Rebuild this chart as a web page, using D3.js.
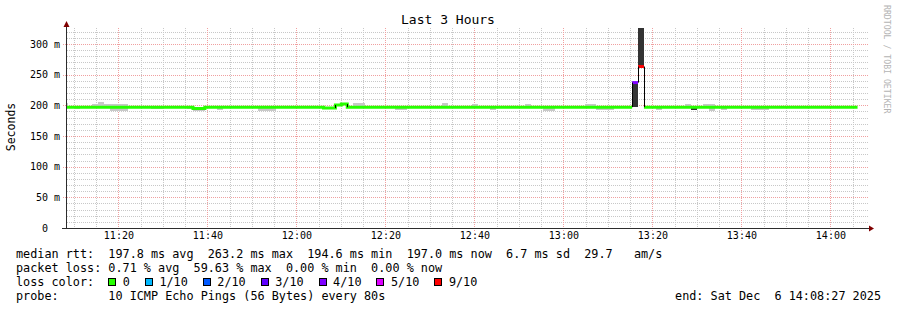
<!DOCTYPE html>
<html>
<head>
<meta charset="utf-8">
<script src="https://cdn.jsdelivr.net/npm/d3@7"></script>
<style>
  html, body { margin: 0; padding: 0; background: #fff; }
  svg { display: block; font-family: "DejaVu Sans Mono", monospace; }
  text { white-space: pre; }
</style>
</head>
<body>
<svg id="chart" width="897" height="310"></svg>
<script>
// 1) Data
const startTime = new Date(2025, 11, 6, 11, 8, 27);
const endTime = new Date(2025, 11, 6, 14, 8, 27);
const firstStep = new Date(2025, 11, 6, 11, 7, 26);
const stepSeconds = 80;

// median rtt per 80s step (ms)
const medianMs = [
  197, 197, 197, 197, 197, 197, 197, 197, 197, 197,
  197, 197, 197, 197, 197, 197, 197, 197, 197, 197,
  197, 197, 194.6, 194.6, 197, 197, 197, 197, 197, 197,
  197, 197, 197, 197, 197, 197, 197, 197, 197, 197,
  197, 197, 197, 197, 195.5, 195.5, 200.5, 202, 197, 197,
  197, 197, 197, 197, 197, 197, 197, 197, 197, 197,
  197, 197, 197, 197, 197, 197, 197, 197, 197, 197,
  197, 197, 197, 197, 197, 197, 197, 197, 197, 197,
  197, 197, 197, 197, 197, 197, 197, 197, 197, 197,
  197, 197, 197, 197, 197, 197, 237, 263.2, 197, 197,
  197, 197, 197, 197, 197, 197, 197, 197, 197, 197,
  197, 197, 197, 197, 197, 197, 197, 197, 197, 197,
  197, 197, 197, 197, 197, 197, 197, 197, 197, 197,
  197, 197, 197, 197
];

// lost pings out of 10 per step
const lossTenths = [
  0, 0, 0, 0, 0, 0, 0, 0, 0, 0,
  0, 0, 0, 0, 0, 0, 0, 0, 0, 0,
  0, 0, 0, 0, 0, 0, 0, 0, 0, 0,
  0, 0, 0, 0, 0, 0, 0, 0, 0, 0,
  0, 0, 0, 0, 0, 0, 0, 0, 0, 0,
  0, 0, 0, 0, 0, 0, 0, 0, 0, 0,
  0, 0, 0, 0, 0, 0, 0, 0, 0, 0,
  0, 0, 0, 0, 0, 0, 0, 0, 0, 0,
  0, 0, 0, 0, 0, 0, 0, 0, 0, 0,
  0, 0, 0, 0, 0, 0, 4, 9, 0, 0,
  0, 0, 0, 0, 0, 0, 0, 0, 0, 0,
  0, 0, 0, 0, 0, 0, 0, 0, 0, 0,
  0, 0, 0, 0, 0, 0, 0, 0, 0, 0,
  0, 0, 0, 0
];

// smoke: [step, low ms, high ms] (outer pings, light)
const smokeOuter = [
  [0, 197, 204], [2, 194, 197], [5, 197, 202], [6, 197, 205], [7, 197, 202],
  [8, 191, 202], [9, 191, 202], [10, 191, 202], [15, 194, 197], [16, 194, 197],
  [21, 194, 197], [22, 191, 197], [23, 191, 197], [26, 193, 197],
  [33, 191, 197], [34, 191, 197], [35, 191, 197], [49, 197, 203], [50, 197, 203],
  [56, 192, 197], [57, 192, 197], [64, 197, 203], [69, 197, 202], [72, 193, 197],
  [78, 197, 201.5], [81, 190.5, 197], [82, 190.5, 197], [88, 197, 201.5], [89, 197, 201.5],
  [90, 192, 197], [91, 192, 197], [92, 192, 197], [100, 193, 197], [105, 197, 201.5],
  [108, 197, 202.5], [109, 191, 202.5], [111, 193, 197],
  [116, 192, 197], [117, 192, 197], [118, 192, 197]
];
// smoke: [step, low ms, high ms] (dense pings, dark)
const smokeCore = [
  [96, 197, 237], [97, 263.2, 327], [106, 192.5, 197]
];

const yTickValues = [0, 50, 100, 150, 200, 250, 300];
const yTickLabels = ["0  ", "50 m", "100 m", "150 m", "200 m", "250 m", "300 m"];
const xTickLabels = ["11:20", "11:40", "12:00", "12:20", "12:40", "13:00", "13:20", "13:40", "14:00"];

const lossLevels = [0, 1, 2, 3, 4, 5, 9];
const lossLabels = ["0", "1/10", "2/10", "3/10", "4/10", "5/10", "9/10"];
const lossColors = ["#26ff00", "#00b8ff", "#0059ff", "#5e00ff", "#7e00ff", "#dd00ff", "#ff0000"];

const legendLines = [
  "median rtt:  197.8 ms avg  263.2 ms max  194.6 ms min  197.0 ms now  6.7 ms sd  29.7   am/s",
  "packet loss: 0.71 % avg  59.63 % max  0.00 % min  0.00 % now",
  "loss color:",
  "probe:       10 ICMP Echo Pings (56 Bytes) every 80s"
];
const endLabel = "end: Sat Dec  6 14:08:27 2025";

// 2) Scales
const plot = { left: 67, right: 868, top: 28, bottom: 228 };
const svg = d3.select("#chart");

const x = d3.scaleTime().domain([startTime, endTime]).range([plot.left, plot.right]);
const y = d3.scaleLinear().domain([0, 326]).range([plot.bottom, plot.top]);

const stepStart = (j) => new Date(firstStep.getTime() + j * stepSeconds * 1000);
const px = (v) => Math.round(v) + 0.5;
const lossColor = (l) => lossColors[lossLevels.indexOf(l)];

const xTickTimes = xTickLabels.map((s) => {
  const [h, m] = s.split(":");
  return new Date(2025, 11, 6, +h, +m);
});

// 3) Grid
const grid = svg.append("g").attr("fill", "none").attr("stroke-width", 1).attr("stroke-dasharray", "1,1");

const minorY = d3.range(10, 330, 10).filter((v) => v % 50 !== 0);
grid.selectAll(".gy").data(minorY).join("line")
  .attr("x1", plot.left).attr("x2", plot.right)
  .attr("y1", (d) => px(y(d))).attr("y2", (d) => px(y(d)))
  .attr("stroke", "#c8c8c8");

const minorX = d3.timeMinute.every(5).range(startTime, endTime).filter((t) => t.getMinutes() % 20 !== 0);
grid.selectAll(".gx").data(minorX).join("line")
  .attr("x1", (d) => px(x(d))).attr("x2", (d) => px(x(d)))
  .attr("y1", plot.top).attr("y2", plot.bottom)
  .attr("stroke", "#c8c8c8");

grid.selectAll(".my").data(yTickValues.slice(1)).join("line")
  .attr("x1", plot.left - 4).attr("x2", plot.right)
  .attr("y1", (d) => px(y(d))).attr("y2", (d) => px(y(d)))
  .attr("stroke", "#f0a0a0");

grid.selectAll(".mx").data(xTickTimes).join("line")
  .attr("x1", (d) => px(x(d))).attr("x2", (d) => px(x(d)))
  .attr("y1", plot.top).attr("y2", plot.bottom + 4)
  .attr("stroke", "#f0a0a0");

// 4) Smoke + median
svg.append("clipPath").attr("id", "clip")
  .append("rect")
  .attr("x", plot.left).attr("y", plot.top)
  .attr("width", plot.right - plot.left).attr("height", plot.bottom - plot.top);

const marks = svg.append("g").attr("clip-path", "url(#clip)");

function drawSmoke(rows, color) {
  marks.append("g").attr("shape-rendering", "crispEdges")
    .selectAll("rect").data(rows).join("rect")
    .attr("x", (d) => x(stepStart(d[0])))
    .attr("width", (d) => x(stepStart(d[0] + 1)) - x(stepStart(d[0])))
    .attr("y", (d) => y(d[2]))
    .attr("height", (d) => y(d[1]) - y(d[2]))
    .attr("fill", color);
}
drawSmoke(smokeOuter, "#c8c8c8");
drawSmoke(smokeCore, "#333333");

// split median into runs of equal loss color
const runs = [];
medianMs.forEach((m, j) => {
  const last = runs[runs.length - 1];
  if (last && last.loss === lossTenths[j]) last.steps.push(j);
  else runs.push({ loss: lossTenths[j], steps: [j] });
});

const medLine = d3.line()
  .x((d) => x(stepStart(d.j)))
  .y((d) => y(d.v))
  .curve(d3.curveStepAfter);

marks.append("g").selectAll("path").data(runs).join("path")
  .attr("d", (r) => {
    const pts = r.steps.map((j) => ({ j, v: medianMs[j] }));
    const lastJ = r.steps[r.steps.length - 1];
    pts.push({ j: lastJ + 1, v: medianMs[lastJ] });
    return medLine(pts);
  })
  .attr("fill", "none")
  .attr("stroke", (r) => lossColor(r.loss))
  .attr("stroke-width", 3);

// black transitions where the median jumps
const jumps = medianMs.map((m, j) => j).filter((j) => j > 0 && Math.abs(y(medianMs[j]) - y(medianMs[j - 1])) > 1.5);
marks.append("g").selectAll("line").data(jumps).join("line")
  .attr("x1", (j) => px(x(stepStart(j)))).attr("x2", (j) => px(x(stepStart(j))))
  .attr("y1", (j) => y(medianMs[j - 1])).attr("y2", (j) => y(medianMs[j]))
  .attr("stroke", "#000").attr("stroke-width", 1);

// 5) Axes
const axisColor = "#2c2c2c";
svg.append("line")
  .attr("x1", plot.left - 5).attr("x2", plot.right + 2)
  .attr("y1", plot.bottom + 0.5).attr("y2", plot.bottom + 0.5)
  .attr("stroke", axisColor);
svg.append("line")
  .attr("x1", plot.left - 0.5).attr("x2", plot.left - 0.5)
  .attr("y1", plot.bottom + 1).attr("y2", plot.top - 4)
  .attr("stroke", axisColor);
svg.append("path")
  .attr("d", `M${plot.left - 3.5},${plot.top - 1}L${plot.left - 0.5},${plot.top - 7}L${plot.left + 2.5},${plot.top - 1}Z`)
  .attr("fill", "#800000");
svg.append("path")
  .attr("d", `M${plot.right + 1},${plot.bottom - 2.5}L${plot.right + 6},${plot.bottom + 0.5}L${plot.right + 1},${plot.bottom + 3.5}Z`)
  .attr("fill", "#800000");

const yAxis = d3.axisLeft(y).tickValues(yTickValues).tickFormat((d, i) => yTickLabels[i]).tickSize(0).tickPadding(7);
svg.append("g")
  .attr("transform", `translate(${plot.left},0)`)
  .call(yAxis)
  .call((g) => g.select(".domain").remove())
  .attr("font-family", null).attr("font-size", 10)
  .selectAll("text").attr("fill", "#000");

const xAxis = d3.axisBottom(x).tickValues(xTickTimes).tickFormat((d, i) => xTickLabels[i]).tickSize(0).tickPadding(4);
svg.append("g")
  .attr("transform", `translate(0,${plot.bottom})`)
  .call(xAxis)
  .call((g) => g.select(".domain").remove())
  .attr("font-family", null).attr("font-size", 10)
  .selectAll("text").attr("fill", "#000");

// 6) Titles
svg.append("text")
  .attr("x", 448).attr("y", 24)
  .attr("text-anchor", "middle").attr("font-size", 13)
  .text("Last 3 Hours");

svg.append("text")
  .attr("transform", "translate(15,127) rotate(-90)")
  .attr("text-anchor", "middle").attr("font-size", 11.5)
  .text("Seconds");

svg.append("text")
  .attr("transform", "translate(884,5) rotate(90)")
  .attr("font-size", 8.2).attr("fill", "#b4b4b4")
  .text("RRDTOOL / TOBI OETIKER");

// 7) Legend
const cw = 7.1;
const legend = svg.append("g").attr("font-size", 11.8).attr("fill", "#000");
legend.selectAll("text.line").data(legendLines).join("text")
  .attr("class", "line")
  .attr("x", 16).attr("y", (d, i) => 258 + i * 14)
  .text((d) => d);

legend.append("text")
  .attr("x", 881).attr("y", 300)
  .attr("text-anchor", "end")
  .text(endLabel);

let cursor = 16 + 13 * cw;
lossLabels.forEach((label, i) => {
  legend.append("rect")
    .attr("x", Math.round(cursor) + 0.5).attr("y", 278.5)
    .attr("width", 7).attr("height", 7)
    .attr("fill", lossColors[i]).attr("stroke", "#000");
  legend.append("text")
    .attr("x", cursor + 14.5).attr("y", 286)
    .text(label);
  cursor += 14.5 + label.length * cw + 15;
});
</script>
</body>
</html>
